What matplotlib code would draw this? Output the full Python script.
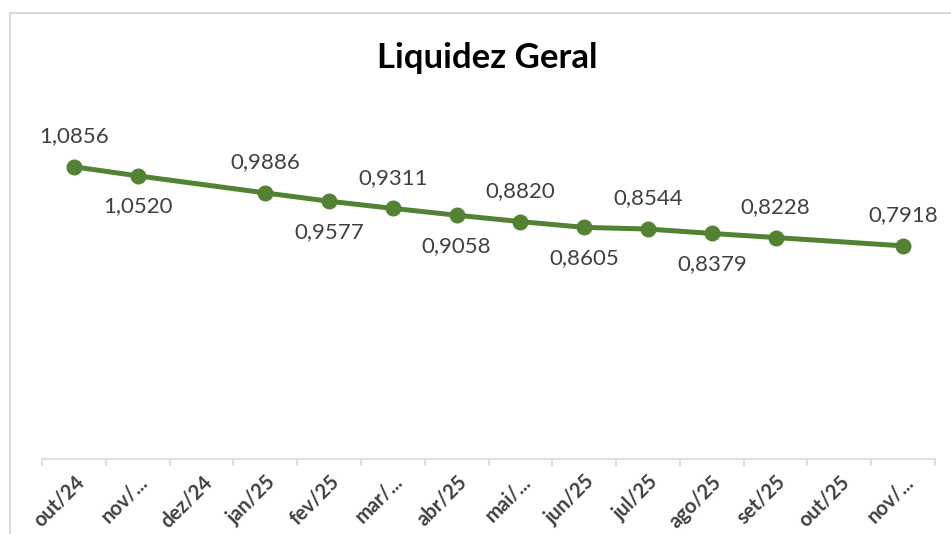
import matplotlib.pyplot as plt
from matplotlib.lines import Line2D

months = ["out/24", "nov/...", "dez/24", "jan/25", "fev/25", "mar/...", "abr/25",
          "mai/...", "jun/25", "jul/25", "ago/25", "set/25", "out/25", "nov/..."]
# dez/24 and out/25 have no value
values = [1.0856, 1.0520, None, 0.9886, 0.9577, 0.9311, 0.9058,
          0.8820, 0.8605, 0.8544, 0.8379, 0.8228, None, 0.7918]
# label placement for each point, alternating as in the source
label_pos = ["above", "below", None, "above", "below", "above", "below",
             "above", "below", "above", "below", "above", None, "above"]

green = "#548235"
gray = "#404040"
font = ["Lato", "DejaVu Sans"]

xs = [i for i, v in enumerate(values) if v is not None]
ys = [v for v in values if v is not None]

fig = plt.figure(figsize=(9.51, 5.34), dpi=100)
ax = fig.add_axes([42 / 951, 1 - 459 / 534, 893 / 951, (459 - 136) / 534])

ax.plot(xs, ys, color=green, lw=3.6, marker="o", ms=10.5, solid_capstyle="round")

for i, v in enumerate(values):
    if v is None:
        continue
    dy = 22 if label_pos[i] == "above" else -22
    ax.annotate(f"{v:.4f}".replace(".", ","), (i, v), xytext=(0, dy),
                textcoords="offset points", ha="center", va="center",
                fontsize=16, color=gray, family=font)

ax.set_xlim(-0.5, len(months) - 0.5)
ax.set_ylim(0, 1.2)
ax.set_xticks([i + 0.5 for i in range(-1, len(months))], minor=False)
ax.set_xticklabels([])
ax.tick_params(axis="x", which="major", length=5, color="#d9d9d9", width=1.2)
ax.set_xticks(range(len(months)), minor=True)
ax.set_xticklabels(months, minor=True, rotation=45, ha="right",
                   rotation_mode="anchor", fontsize=14.5, fontweight="bold",
                   color=gray, family=font)
ax.tick_params(axis="x", which="minor", length=0, pad=9)
ax.set_yticks([])
for s in ["top", "right", "left"]:
    ax.spines[s].set_visible(False)
ax.spines["bottom"].set_color("#d9d9d9")
ax.spines["bottom"].set_linewidth(1.2)

fig.text(487 / 951, 1 - 58 / 534, "Liquidez Geral", ha="center", va="center",
         fontsize=25, fontweight="bold", color="black", family=font)

# chart frame (only top and left edges are visible in the crop)
fig.add_artist(Line2D([10 / 951, 1], [1 - 13 / 534] * 2, color="#d9d9d9", lw=1.5,
                      transform=fig.transFigure))
fig.add_artist(Line2D([10 / 951] * 2, [0, 1 - 13 / 534], color="#d9d9d9", lw=1.5,
                      transform=fig.transFigure))

fig.savefig("out.png", dpi=100)
